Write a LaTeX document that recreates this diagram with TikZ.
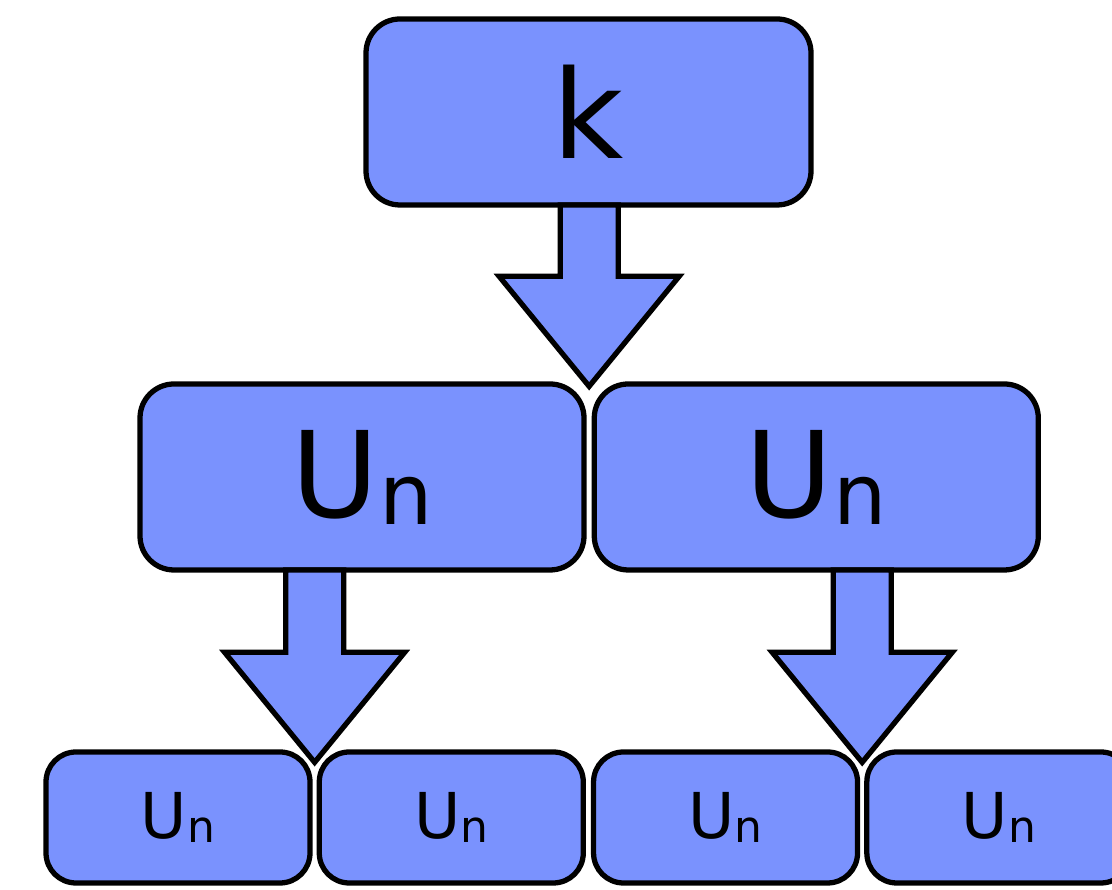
\documentclass[tikz,border=0pt]{standalone}
\usepackage{fontspec}
\setmainfont{DejaVu Sans}
\usepackage{xcolor}
\usepackage{tikz}
\usetikzlibrary{calc, positioning}

\definecolor{boxblue}{RGB}{122,146,254}

\newcommand{\Unbig}{\raisebox{-1.5pt}{U\raisebox{-2pt}{\fontsize{24}{24}\selectfont n}}}
\newcommand{\Unsmall}{\raisebox{-0.6pt}{U\raisebox{-1pt}{\fontsize{12.5}{12.5}\selectfont n}}}

\begin{document}
\begin{tikzpicture}[node distance=0.05cm,
                    box/.style={rectangle,rounded corners=0.34cm,draw=black,line width=1.5pt,fill=boxblue,
                                preaction={draw=white,line width=2.5pt}},
                    top box/.style={box,minimum width=4.45cm,minimum height=1.86cm,font=\fontsize{35}{35}\selectfont},
                    mid box/.style={box,minimum width=4.44cm,minimum height=1.86cm,font=\fontsize{34}{34}\selectfont},
                    low box/.style={box,rounded corners=0.3cm,minimum width=2.64cm,minimum height=1.31cm,font=\fontsize{18}{18}\selectfont},
                    flow arrow/.style={draw=black,line width=1.5pt,fill=boxblue,line join=miter}]

  \path[use as bounding box,clip] (0,0) rectangle (11.12,8.9);

  \node[top box] (k) at (5.885,7.78) {k};

  \node[mid box] (m1) at (3.62,4.13) {\Unbig};
  \node[mid box] (m2) [right=of m1] {\Unbig};

  \node[low box] (b1) at (1.78,0.725) {\Unsmall};
  \node[low box] (b2) [right=0.04cm of b1] {\Unsmall};
  \node[low box] (b3) [right=of b2] {\Unsmall};
  \node[low box] (b4) [right=0.04cm of b3] {\Unsmall};

  % arrow tips sit in the gap between two neighbouring boxes
  \coordinate (t1) at ($(m1.north east)!.5!(m2.north west)+(0,-0.05)$);
  \coordinate (t2) at ($(b1.north east)!.5!(b2.north west)+(0,-0.13)$);
  \coordinate (t3) at ($(b3.north east)!.5!(b4.north west)+(0,-0.13)$);

  \foreach \src/\tip in {k/t1, m1/t2, m2/t3}
    \draw[flow arrow] (\tip) -- ++(0.9,1.1) -- ++(-0.61,0)
      -- ($(\tip |- \src.south)+(0.29,0.026)$)
      -- ($(\tip |- \src.south)+(-0.29,0.026)$)
      -- ($(\tip)+(-0.29,1.1)$) -- ++(-0.61,0) -- cycle;

\end{tikzpicture}
\end{document}
